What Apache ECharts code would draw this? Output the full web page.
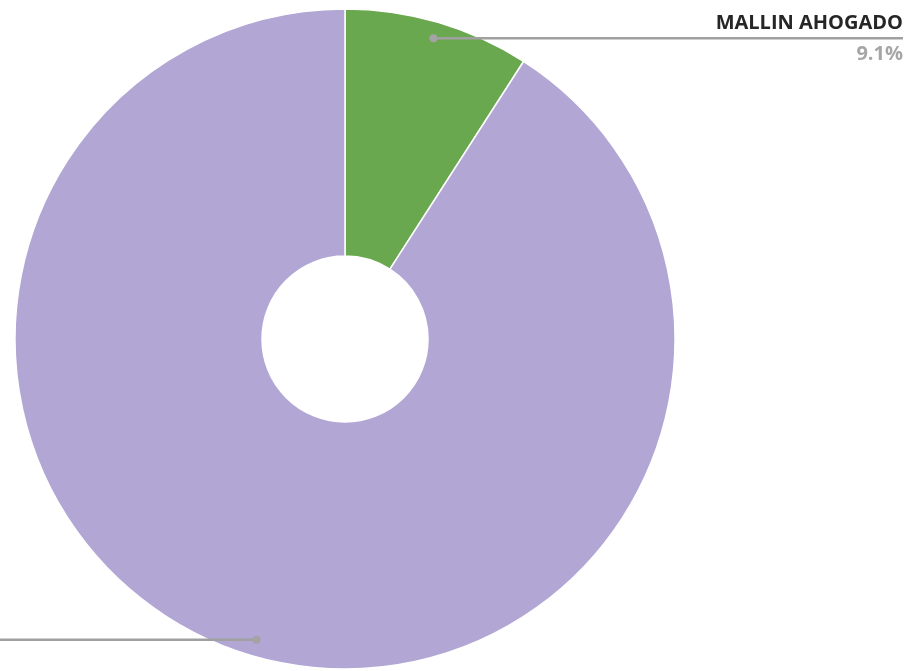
<!DOCTYPE html>
<html>
<head>
<meta charset="utf-8">
<style>
  html, body { margin: 0; padding: 0; background: #fff; }
  #chart { width: 906px; height: 671px; }
</style>
<script src="https://cdn.jsdelivr.net/npm/echarts@6/dist/echarts.min.js"></script>
</head>
<body>
<div id="chart"></div>
<script>
// Category names, shares (%) and slice colours
const categories = ['MALLIN AHOGADO', 'MALLIN SECO'];
const shares = [9.1, 90.9];
const colors = ['#6aa84f', '#b2a6d4'];

// Geometry of the ring (pixels)
const CX = 345, CY = 339, R_OUT = 330, R_IN = 83;
const ANCHOR_R = 0.95;          // where the leader line starts, as fraction of outer radius
const LABEL_EDGE = [903, -30];  // x where each leader line ends / label aligns

const total = shares.reduce((a, b) => a + b, 0);
// Position of each slice's middle along the angle axis
const mids = shares.map((v, i) => shares.slice(0, i).reduce((s, x) => s + x, 0) + v / 2);

const LINE_COLOR = '#a0a0a0';
const FONT = 'Open Sans';

const chart = echarts.init(document.getElementById('chart'), null, { renderer: 'canvas' });

chart.setOption({
  animation: false,
  backgroundColor: '#fff',
  polar: { center: [CX, CY], radius: R_OUT },
  angleAxis: { type: 'value', min: 0, max: total, startAngle: 90, clockwise: true, show: false },
  radiusAxis: { type: 'value', min: 0, max: 1, show: false },
  series: [
    {
      type: 'pie',
      center: [CX, CY],
      radius: [R_IN, R_OUT],
      startAngle: 90,
      clockwise: true,
      silent: true,
      itemStyle: { borderColor: '#fff', borderWidth: 1.5 },
      label: { show: false },
      labelLine: { show: false },
      data: categories.map((n, i) => ({ name: n, value: shares[i], itemStyle: { color: colors[i] } })),
      z: 2
    },
    {
      // dot at each slice's middle, a horizontal leader line and the category / share label
      type: 'custom',
      coordinateSystem: 'polar',
      silent: true,
      data: mids.map(m => [ANCHOR_R, m]),
      renderItem: function (params, api) {
        const i = params.dataIndex;
        const p = api.coord([api.value(0), api.value(1)]);
        const ex = LABEL_EDGE[i];
        return {
          type: 'group',
          children: [
            { type: 'line', shape: { x1: p[0], y1: p[1], x2: ex, y2: p[1] },
              style: { stroke: LINE_COLOR, lineWidth: 2.5 } },
            { type: 'circle', shape: { cx: p[0], cy: p[1], r: 4 },
              style: { fill: '#a3a3a3' } },
            { type: 'text', x: ex, y: p[1] - 15,
              style: { text: categories[i], fill: '#262626', font: 'bold 20px "' + FONT + '"',
                       align: 'right', verticalAlign: 'middle' } },
            { type: 'text', x: ex, y: p[1] + 16,
              style: { text: shares[i].toFixed(1) + '%', fill: '#a6a6a6', font: 'bold 20px "' + FONT + '"',
                       align: 'right', verticalAlign: 'middle' } }
          ]
        };
      },
      z: 5
    }
  ]
});
</script>
</body>
</html>
